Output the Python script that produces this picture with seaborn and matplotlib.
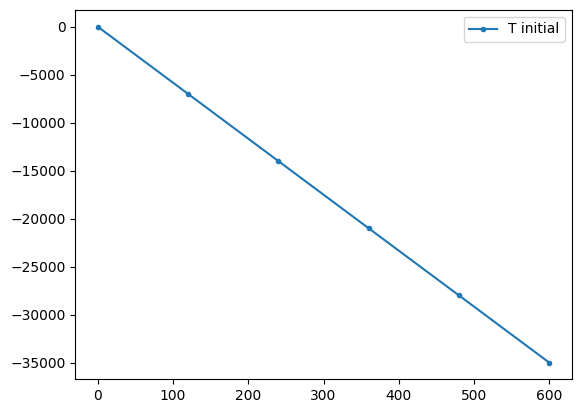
import pandas as pd
import matplotlib.pyplot as plt
import seaborn as sns

# time points and initial temperature values
times = [0, 120, 240, 360, 480, 600]
t_initial = [0, -7000, -14000, -21000, -28000, -35000]

df = pd.DataFrame({'time': times, 'T initial': t_initial})

fig, ax = plt.subplots(figsize=(5.81, 4.13), dpi=100)
fig.subplots_adjust(left=0.1296, right=0.984, top=0.9758, bottom=0.0816)

sns.lineplot(x='time', y='T initial', data=df, ax=ax, marker='.',
             markersize=6, markeredgewidth=1.0, markeredgecolor='C0',
             color='C0', label='T initial')
ax.set_xlabel('')
ax.set_ylabel('')
ax.set_yticks([0, -5000, -10000, -15000, -20000, -25000, -30000, -35000])
ax.legend(loc='upper right')

plt.savefig('out.png')
